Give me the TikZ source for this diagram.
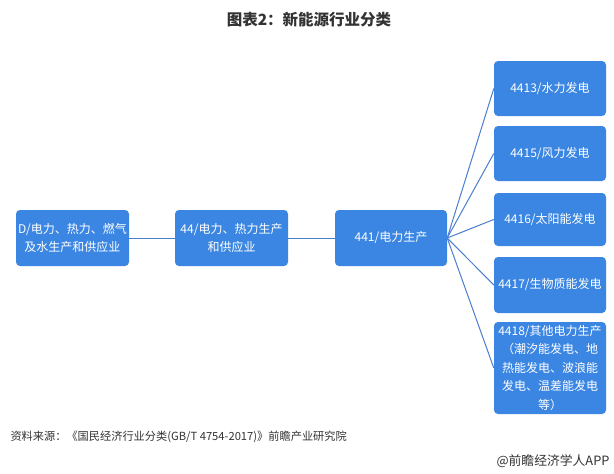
\documentclass[tikz,border=0pt]{standalone}
\usepackage{fontspec}
\setmainfont{Noto Sans CJK SC}
\newfontfamily\cjk{Noto Sans CJK SC}
\usetikzlibrary{positioning}
\definecolor{boxblue}{HTML}{3B86E2}
\definecolor{lineblue}{HTML}{4A7ECF}
\definecolor{textgray}{HTML}{333333}

\begin{document}
\begin{tikzpicture}[x=1pt, y=-1pt,
		catbox/.style={fill=boxblue, rounded corners=4pt, text=white, align=center,
			inner sep=0pt, font=\cjk\fontsize{12}{17.5}\selectfont},
		link/.style={draw=lineblue, line width=1pt}]
		\useasboundingbox [fill=white] (0,0) rectangle (614,474);
		% title
		\node [font=\cjk\bfseries\fontsize{15.5}{18}\selectfont, text=textgray] (title) at (309,20) {图表2：新能源行业分类};
		% main chain
		\node [catbox, minimum width=113pt, minimum height=56pt] (sectorD) at (72.5,238) {D/电力、热力、燃气\\及水生产和供应业};
		\node [catbox, minimum width=113pt, minimum height=56pt] (class44) at (231.5,238) {44/电力、热力生产\\和供应业};
		\node [catbox, minimum width=112pt, minimum height=56pt] (class441) at (391,238) {441/电力生产};
		% sub classes
		\node [catbox, minimum width=112pt, minimum height=55pt] (hydro) at (550,88.5) {4413/水力发电};
		\node [catbox, minimum width=112pt, minimum height=55pt] (wind) at (550,153.5) {4415/风力发电};
		\node [catbox, minimum width=112pt, minimum height=53pt] (solar) at (550,219.5) {4416/太阳能发电};
		\node [catbox, minimum width=112pt, minimum height=56pt] (biomass) at (550,285) {4417/生物质能发电};
		\node [catbox, minimum width=112pt, minimum height=92pt, font=\cjk\fontsize{12}{18.5}\selectfont] (other) at (550,368)
			{4418/其他电力生产\\（潮汐能发电、地\\热能发电、波浪能\\发电、温差能发电\\等）};
		% connectors
		\draw [link] (sectorD.east) -- (class44.west);
		\draw [link] (class44.east) -- (class441.west);
		\foreach \sub in {hydro, wind, solar, biomass, other}
			\draw [link] (class441.east) -- (\sub.west);
		% source
		\node [anchor=west, font=\cjk\fontsize{11.2}{14}\selectfont, text=textgray] (source) at (7,437)
			{资料来源：《国民经济行业分类(GB/T 4754-2017)》前瞻产业研究院};
		\node [anchor=east, font=\cjk\fontsize{12.8}{14}\selectfont, text=textgray] (brand) at (613,461) {@前瞻经济学人APP};
	\end{tikzpicture}
\end{document}
